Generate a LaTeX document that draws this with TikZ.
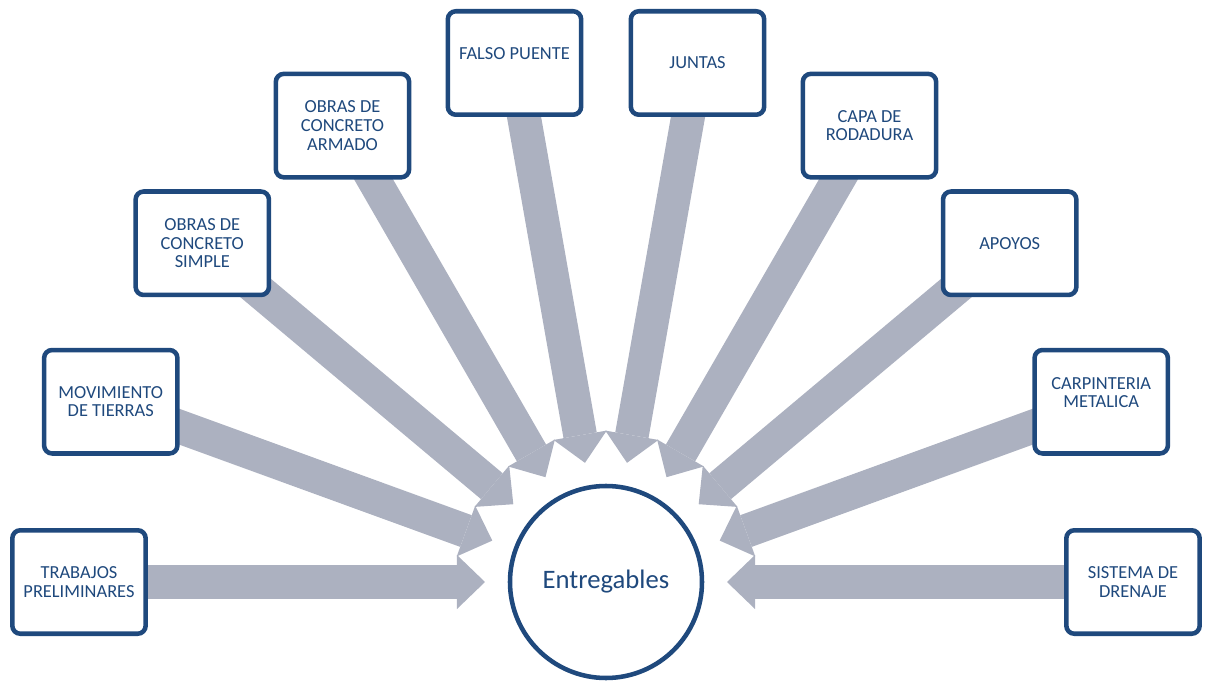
\documentclass[tikz,border=0pt]{standalone}
\usepackage{fontspec}
\setmainfont{Carlito}
\usetikzlibrary{arrows.meta, backgrounds, positioning}

\definecolor{deepblue}{RGB}{31,73,125}
\definecolor{pipegray}{RGB}{172,177,192}

\begin{document}
\begin{tikzpicture}[x=0.75pt, y=0.75pt,
    entry/.style={draw=deepblue, line width=3.4pt, fill=white, rounded corners=6pt,
      minimum width=100pt, minimum height=77.6pt, inner sep=2pt, align=center,
      text=deepblue, font=\fontsize{13.8}{14}\selectfont},
    goal/.style={circle, draw=deepblue, line width=3.4pt, fill=white,
      minimum size=144pt, text=deepblue, font=\fontsize{20}{24}\selectfont},
    flow/.style={pipegray, line width=25.3pt, shorten >=90.75pt,
      -{Triangle[length=21pt, width=40.5pt, line width=0pt]}}]
  \useasboundingbox (-606,-100) rectangle (600,582);

  \node [goal] (hub) at (0,0) {Entregables};

  \node [entry] (trab) at (180:527) {TRABAJOS\\PRELIMINARES};
  \node [entry] (mov)  at (160:527) {MOVIMIENTO\\DE TIERRAS};
  \node [entry] (simp) at (140:527) {OBRAS DE\\CONCRETO\\SIMPLE};
  \node [entry] (arm)  at (120:527) {OBRAS DE\\CONCRETO\\ARMADO};
  \node [entry] (fals) at (100:527) {FALSO PUENTE\\\mbox{}};
  \node [entry] (junt) at (80:527)  {JUNTAS};
  \node [entry] (capa) at (60:527)  {CAPA DE\\RODADURA};
  \node [entry] (apoy) at (40:527)  {APOYOS};
  \node [entry] (carp) at (20:527)  {CARPINTERIA\\METALICA\\\mbox{}};
  \node [entry] (dren) at (0:527)   {SISTEMA DE\\DRENAJE};

  \begin{scope}[on background layer]
    \draw [flow] (trab.center) -- (hub.center);
    \draw [flow] (mov.center)  -- (hub.center);
    \draw [flow] (simp.center) -- (hub.center);
    \draw [flow] (arm.center)  -- (hub.center);
    \draw [flow] (fals.center) -- (hub.center);
    \draw [flow] (junt.center) -- (hub.center);
    \draw [flow] (capa.center) -- (hub.center);
    \draw [flow] (apoy.center) -- (hub.center);
    \draw [flow] (carp.center) -- (hub.center);
    \draw [flow] (dren.center) -- (hub.center);
  \end{scope}
\end{tikzpicture}
\end{document}
